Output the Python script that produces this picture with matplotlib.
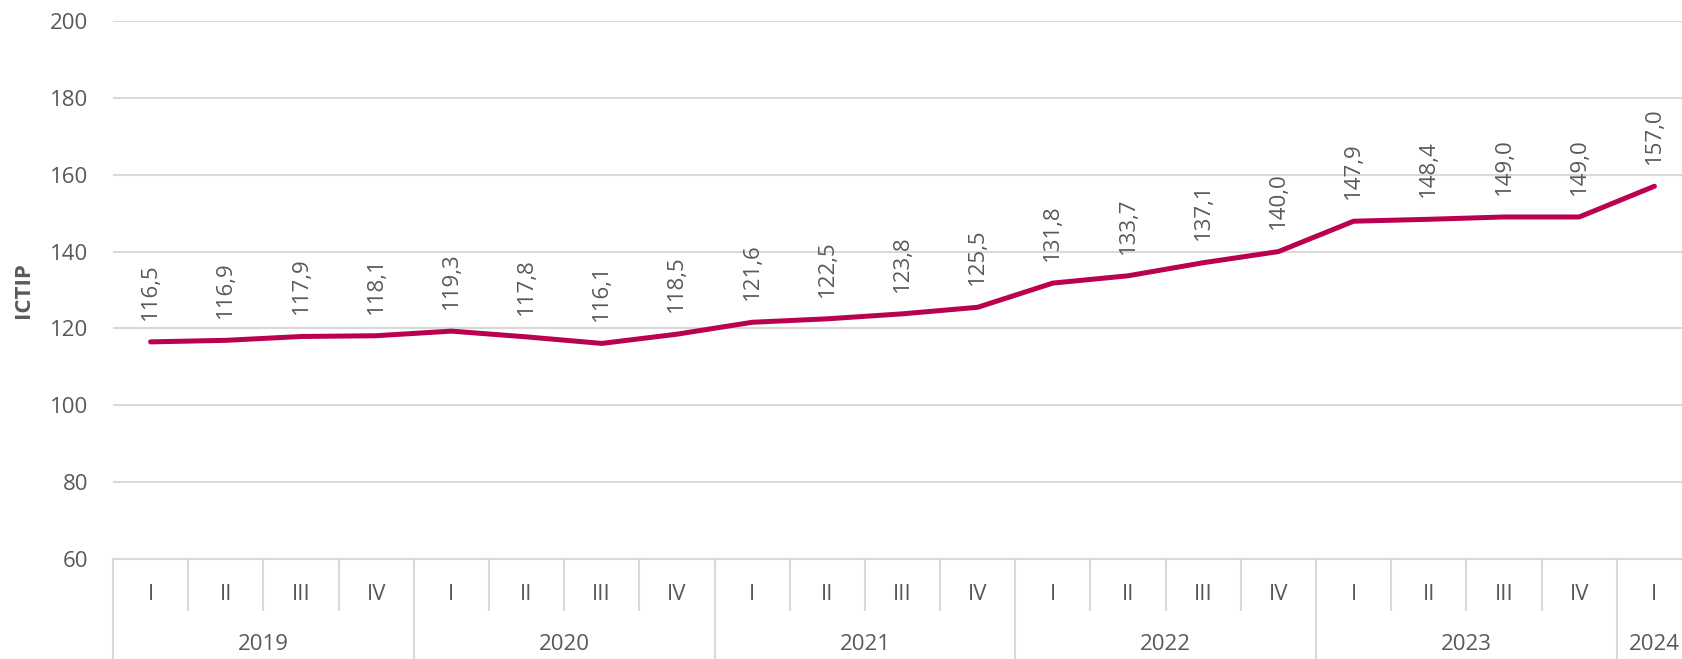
import matplotlib
matplotlib.use("Agg")
import matplotlib.pyplot as plt
import matplotlib.transforms as mtransforms
import numpy as np

plt.rcParams['font.family'] = ['Open Sans', 'DejaVu Sans']

years = ['2019', '2020', '2021', '2022', '2023', '2024']
quarters = ['I', 'II', 'III', 'IV'] * 5 + ['I']
ictip = [116.5, 116.9, 117.9, 118.1, 119.3, 117.8, 116.1, 118.5,
         121.6, 122.5, 123.8, 125.5, 131.8, 133.7, 137.1, 140.0,
         147.9, 148.4, 149.0, 149.0, 157.0]

text_c = '#595959'
grid_c = '#D9D9D9'
line_c = '#BA0050'

W, H = 1683, 659
fig = plt.figure(figsize=(W / 100, H / 100), dpi=100)
# axes placed in pixels: x 113..1692 (slightly cropped at right), y 21..559
ax = fig.add_axes([113 / W, (H - 559) / H, (1692 - 113) / W, (559 - 21) / H])

x = np.arange(len(ictip))
ax.plot(x, ictip, color=line_c, lw=3.6, solid_capstyle='round', zorder=3)

for xi, v in zip(x, ictip):
    ax.annotate(f'{v:.1f}'.replace('.', ','), (xi, v), xytext=(0, 16),
                textcoords='offset points', rotation=90, ha='center', va='bottom',
                fontsize=16, color=text_c)

ax.set_xlim(-0.5, len(ictip) - 0.5)
ax.set_ylim(60, 200)
ax.set_yticks(np.arange(60, 201, 20))
ax.yaxis.grid(True, color=grid_c, lw=1.5)
ax.set_axisbelow(True)
ax.tick_params(axis='y', length=0, pad=18, labelsize=16, labelcolor=text_c)
ax.set_xticks([])
for s in ['top', 'right', 'left']:
    ax.spines[s].set_visible(False)
ax.spines['bottom'].set_color(grid_c)
ax.spines['bottom'].set_linewidth(1.5)

ax.set_ylabel('ICTIP', fontsize=16, fontweight='bold', color=text_c, labelpad=11)

# two-level category axis
trans = mtransforms.blended_transform_factory(ax.transData, ax.transAxes)
ah = 559 - 21
q_bottom = -51 / ah
y_bottom = -105 / ah
for i, q in enumerate(quarters):
    ax.text(i, -35 / ah, q, transform=trans, ha='center', va='center',
            fontsize=16, color=text_c, clip_on=False)
for i in range(len(quarters)):
    xs = i - 0.5
    bottom = y_bottom if i % 4 == 0 else q_bottom
    ax.plot([xs, xs], [0, bottom], transform=trans, color=grid_c, lw=1.5, clip_on=False)
for j, yr in enumerate(years):
    n = min(4, len(quarters) - 4 * j)
    ax.text(4 * j + (n - 1) / 2, -86 / ah, yr, transform=trans, ha='center', va='center',
            fontsize=16, color=text_c, clip_on=False)

fig.savefig('out.png', dpi=100)
